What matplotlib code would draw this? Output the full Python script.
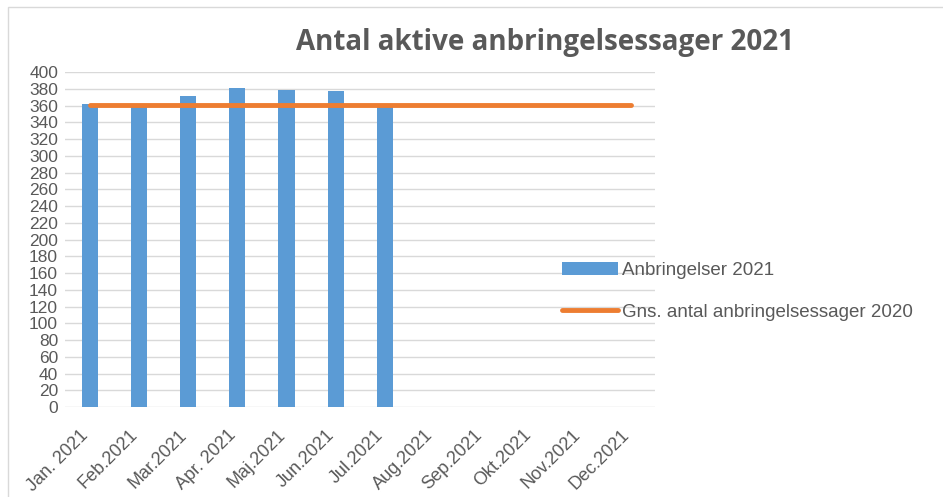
import matplotlib.pyplot as plt
import matplotlib.transforms as mtransforms
from matplotlib.patches import Rectangle
import numpy as np

plt.rcParams['font.family'] = ['Liberation Sans Narrow', 'Liberation Sans', 'DejaVu Sans']

months = ["Jan. 2021", "Feb.2021", "Mar.2021", "Apr. 2021", "Maj.2021", "Jun.2021",
          "Jul.2021", "Aug.2021", "Sep.2021", "Okt.2021", "Nov.2021", "Dec.2021"]
anbringelser_2021 = [362, 359, 372, 381, 379, 377, 359]
gns_2020 = [361] * 12

fig = plt.figure(figsize=(9.43, 4.97), dpi=100)
ax = fig.add_axes([0.069, 0.181, 0.626, 0.674])

x = np.arange(len(months))
bars = ax.bar(x[:len(anbringelser_2021)], anbringelser_2021, width=0.33, color='#5b9bd5',
              label='Anbringelser 2021', zorder=2)
line, = ax.plot(x, gns_2020, color='#ed7d31', linewidth=3.5, solid_capstyle='round',
                label='Gns. antal anbringelsessager 2020', zorder=3)

ax.set_xlim(-0.5, 11.5)
ax.set_ylim(0, 400)
ax.set_yticks(np.arange(0, 401, 20))
ax.tick_params(axis='y', length=0, labelsize=12.5, labelcolor='#595959', pad=5)
ax.set_xticks(x)
ax.set_xticklabels(months, rotation=45, ha='right', rotation_mode='anchor')
ax.tick_params(axis='x', length=0, labelsize=13, labelcolor='#595959', pad=14)
shift = mtransforms.ScaledTranslation(-0.10, 0, fig.dpi_scale_trans)
for lbl in ax.get_xticklabels():
    lbl.set_transform(lbl.get_transform() + shift)
ax.grid(axis='y', color='#d9d9d9', linewidth=1, zorder=0)
for s in ax.spines.values():
    s.set_visible(False)

fig.text(0.578, 0.915, 'Antal aktive anbringelsessager 2021', fontsize=20, fontweight='bold',
         color='#595959', family=['Open Sans', 'DejaVu Sans'], ha='center', va='center')

fig.legend([bars, line], [bars.get_label(), line.get_label()],
           loc='upper left', bbox_to_anchor=(0.578, 0.507), frameon=False,
           fontsize=13.5, labelcolor='#595959', handlelength=3.0, handletextpad=0.2,
           labelspacing=1.3)

fig.patches.append(Rectangle((0.009, -0.01), 1.1, 0.995, transform=fig.transFigure,
                             fill=False, edgecolor='#d9d9d9', linewidth=1))

fig.savefig('out.png', dpi=100)
